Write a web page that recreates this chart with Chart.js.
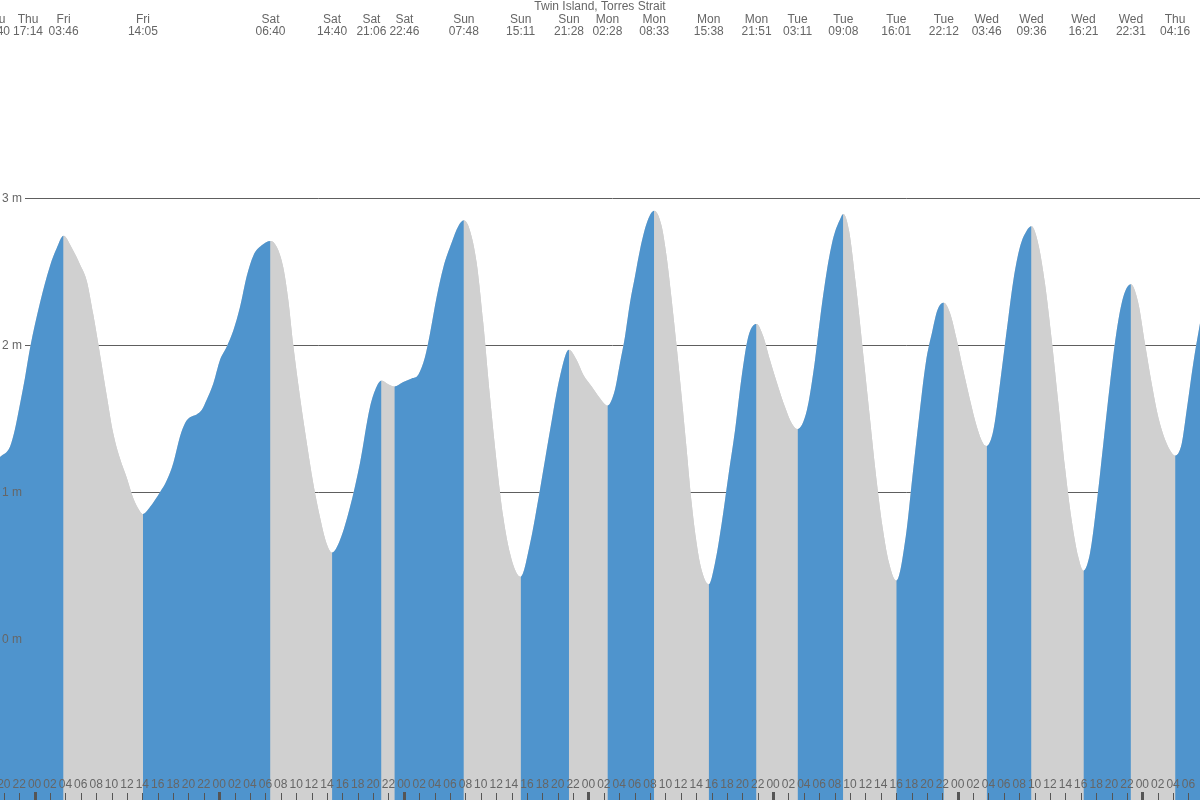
<!DOCTYPE html>
<html>
<head>
<meta charset="utf-8">
<script src="https://cdn.jsdelivr.net/npm/chart.js@4/dist/chart.umd.min.js"></script>
<style>
html,body{margin:0;padding:0;background:#fff;overflow:hidden}
canvas{display:block}
</style>
</head>
<body>
<canvas id="c" width="1200" height="800"></canvas>
<script>
// ---- Data (hours measured from Fri 00:00) ----
const chartTitle = 'Twin Island, Torres Strait';

const timeHours = [
  -4.5, -3.2, -2.55, -1.9, -1.25, -0.6, 0.7, 2.0, 2.87, 3.767,
  4.86, 5.9, 6.77, 7.63, 8.5, 9.37, 10.23, 11.1, 11.97, 12.83, 13.7, 14.083,
  15.0, 16.3, 17.17, 18.03, 18.9, 19.55, 20.2, 21.07, 21.72, 22.37, 23.23, 24.1, 24.97, 25.83, 26.7, 27.57, 28.43, 29.52, 30.667,
  31.47, 32.33, 33.0, 33.63, 34.5, 35.37, 36.23, 37.1, 37.97, 38.667,
  39.7, 41.0, 42.3, 43.6, 44.47, 45.1,
  45.97, 46.767,
  47.93, 49.02, 49.88, 50.75, 51.4, 52.27, 53.13, 54.22, 55.08, 55.8,
  56.6, 57.47, 58.33, 59.2, 60.07, 60.93, 61.8, 62.67, 63.183,
  64.4, 65.7, 67.0, 68.3, 69.467,
  70.47, 71.33, 72.42, 73.5, 74.467,
  75.45, 76.1, 76.75, 77.4, 78.05, 78.7, 79.57, 80.55,
  81.52, 82.17, 82.82, 83.47, 84.12, 84.77, 85.42, 86.07, 86.72, 87.633,
  88.45, 89.32, 90.18, 91.05, 91.92, 92.78, 93.85,
  94.73, 95.6, 96.47, 97.55, 98.42, 99.183,
  100.4, 101.27, 102.13, 103.0, 103.87, 104.73, 105.133,
  105.88, 106.75, 107.62, 108.48, 109.35, 110.22, 111.08, 112.017,
  113.25, 114.12, 114.98, 115.85, 116.72, 117.37, 118.2,
  119.0, 119.87, 120.73, 121.6, 122.47, 123.33, 123.767,
  124.63, 125.5, 126.37, 127.23, 128.1, 128.97, 129.6,
  130.48, 131.35, 132.22, 133.08, 133.95, 134.82, 135.68, 136.35,
  137.2, 138.07, 138.93, 139.8, 140.67, 141.53, 142.517,
  143.47, 144.35, 145.22, 146.08, 146.95, 147.82, 148.267,
  149.12, 149.77, 150.63, 151.5
];

const heightM = [
  1.24, 1.31, 1.43, 1.60, 1.78, 1.98, 2.29, 2.54, 2.66, 2.745,
  2.66, 2.55, 2.44, 2.21, 1.94, 1.66, 1.40, 1.23, 1.10, 0.96, 0.87, 0.852,
  0.90, 1.00, 1.08, 1.20, 1.38, 1.47, 1.51, 1.53, 1.56, 1.63, 1.74, 1.90, 1.99, 2.10, 2.26, 2.47, 2.61, 2.68, 2.71,
  2.67, 2.53, 2.30, 2.00, 1.65, 1.34, 1.06, 0.83, 0.65, 0.59,
  0.675, 0.90, 1.20, 1.58, 1.72, 1.76,
  1.735, 1.72,
  1.75, 1.775, 1.80, 1.92, 2.08, 2.33, 2.53, 2.70, 2.81, 2.85,
  2.78, 2.56, 2.15, 1.65, 1.20, 0.83, 0.585, 0.45, 0.426,
  0.65, 1.02, 1.42, 1.79, 1.97,
  1.90, 1.80, 1.72, 1.64, 1.59,
  1.70, 1.88, 2.06, 2.29, 2.47, 2.65, 2.83, 2.915,
  2.81, 2.60, 2.31, 1.99, 1.65, 1.29, 0.925, 0.65, 0.47, 0.374,
  0.52, 0.79, 1.11, 1.42, 1.79, 2.06, 2.145,
  2.06, 1.90, 1.75, 1.58, 1.47, 1.43,
  1.56, 1.83, 2.19, 2.51, 2.74, 2.86, 2.893,
  2.78, 2.42, 1.99, 1.56, 1.13, 0.77, 0.52, 0.40,
  0.70, 1.11, 1.51, 1.88, 2.10, 2.24, 2.29,
  2.22, 2.04, 1.83, 1.63, 1.45, 1.33, 1.315,
  1.42, 1.74, 2.10, 2.44, 2.67, 2.78, 2.81,
  2.69, 2.42, 2.04, 1.61, 1.17, 0.81, 0.56, 0.467,
  0.585, 0.925, 1.33, 1.74, 2.10, 2.33, 2.415,
  2.29, 2.01, 1.74, 1.51, 1.36, 1.27, 1.25,
  1.33, 1.56, 1.88, 2.15
];

// High / low tide times shown along the top
const extremeDays  = ['Thu','Thu','Fri','Fri','Sat','Sat','Sat','Sat','Sun','Sun','Sun','Mon','Mon','Mon','Mon','Tue','Tue','Tue','Tue','Wed','Wed','Wed','Wed','Thu'];
const extremeClock = ['10:40','17:14','03:46','14:05','06:40','14:40','21:06','22:46','07:48','15:11','21:28','02:28','08:33','15:38','21:51','03:11','09:08','16:01','22:12','03:46','09:36','16:21','22:31','04:16'];
const extremeTypes = ['H','L','H','L','H','L','H','L','H','L','H','L','H','L','H','L','H','L','H','L','H','L','H','L'];

const yTickValues = [0, 1, 2, 3];
const yTickLabels = ['0 m', '1 m', '2 m', '3 m'];
const hourTickStep = 2;

// visible window
const X_MIN = -4.5, X_MAX = 151.5;
const Y_MIN = -1.093, Y_MAX = 4.349;

// ---- styling ----
const RISING = '#4f94cd';
const FALLING = '#d0d0d0';
const TEXT = '#666666';
const LINE = '#5e5e5e';
const FONT = '12px "Liberation Sans", Arial, Helvetica, sans-serif';

// extreme times in hours from Fri 00:00 (day advances when the clock wraps)
const extremeT = [];
(function () {
  let dayOff = -1, prev = -1;
  extremeClock.forEach(s => {
    const [h, m] = s.split(':').map(Number);
    const v = h + m / 60;
    if (prev >= 0 && v < prev) dayOff++;
    prev = v;
    extremeT.push(dayOff * 24 + v);
  });
})();

// colour of a curve piece: rising (next extreme is a high) = blue, falling = grey
function bandColor(tMid) {
  for (let i = 0; i < extremeT.length; i++) {
    if (extremeT[i] >= tMid) return extremeTypes[i] === 'H' ? RISING : FALLING;
  }
  return extremeTypes[extremeTypes.length - 1] === 'H' ? FALLING : RISING;
}

const pad2 = n => (n < 10 ? '0' : '') + n;

const decor = {
  id: 'decor',
  beforeDatasetsDraw(chart) {
    const {ctx, chartArea, scales: {y}} = chart;
    ctx.save();
    ctx.font = FONT;
    ctx.strokeStyle = LINE;
    ctx.lineWidth = 1;
    yTickValues.forEach((v, i) => {
      const py = Math.round(y.getPixelForValue(v)) + 0.5;
      const x0 = 2 + ctx.measureText(yTickLabels[i]).width + 3;
      ctx.beginPath();
      ctx.moveTo(x0, py);
      ctx.lineTo(chartArea.right, py);
      ctx.stroke();
    });
    ctx.restore();
  },
  afterDatasetsDraw(chart) {
    const {ctx, chartArea, scales: {x, y}} = chart;
    ctx.save();
    ctx.font = FONT;
    ctx.fillStyle = TEXT;
    ctx.textBaseline = 'middle';

    // y labels
    ctx.textAlign = 'left';
    yTickValues.forEach((v, i) => {
      ctx.fillText(yTickLabels[i], 2, y.getPixelForValue(v));
    });

    // x hour labels + tick marks
    ctx.textAlign = 'center';
    const start = Math.ceil(X_MIN / hourTickStep) * hourTickStep;
    for (let t = start; t <= X_MAX; t += hourTickStep) {
      const px = x.getPixelForValue(t);
      const hr = ((t % 24) + 24) % 24;
      ctx.fillStyle = TEXT;
      ctx.fillText(pad2(hr), px, 785);
      ctx.fillStyle = '#555';
      if (hr === 0) ctx.fillRect(Math.round(px) - 1, 792, 3, 8);
      else ctx.fillRect(Math.round(px), 793, 1, 7);
    }

    // top labels (high/low times), spread apart when crowded
    const gap = 33;
    const pos = extremeT.map(t => x.getPixelForValue(t));
    for (let i = 0; i < pos.length - 1; i++) {
      if (pos[i] >= chartArea.left && pos[i + 1] - pos[i] < gap) {
        const mid = (pos[i] + pos[i + 1]) / 2;
        pos[i] = mid - gap / 2;
        pos[i + 1] = mid + gap / 2;
      }
    }
    const leftLimit = chartArea.left + 28;
    for (let i = 0; i < pos.length; i++) if (pos[i] < leftLimit) pos[i] = leftLimit;
    for (let i = pos.length - 2; i >= 0; i--) {
      if (pos[i] > pos[i + 1] - gap) pos[i] = pos[i + 1] - gap;
    }
    ctx.fillStyle = TEXT;
    pos.forEach((px, i) => {
      if (px < -40 || px > chartArea.right + 40) return;
      ctx.fillText(extremeDays[i], px, 20);
      ctx.fillText(extremeClock[i], px, 32);
    });

    // title
    ctx.fillText(chartTitle, (chartArea.left + chartArea.right) / 2, 7);
    ctx.restore();
  }
};

const points = timeHours.map((t, i) => ({x: t, y: heightM[i]}));

new Chart(document.getElementById('c'), {
  type: 'line',
  data: {
    datasets: [{
      // rising / falling bands
      data: points,
      order: 0,
      fill: 'start',
      backgroundColor: RISING,
      borderColor: 'rgba(0,0,0,0)',
      borderWidth: 0,
      pointRadius: 0,
      cubicInterpolationMode: 'monotone',
      segment: {
        backgroundColor: ctx => bandColor((ctx.p0.parsed.x + ctx.p1.parsed.x) / 2)
      }
    }, {
      // solid base under the bands so no seams show between them
      data: points,
      order: 1,
      fill: 'start',
      backgroundColor: FALLING,
      borderColor: 'rgba(0,0,0,0)',
      borderWidth: 0,
      pointRadius: 0,
      cubicInterpolationMode: 'monotone'
    }]
  },
  options: {
    responsive: false,
    animation: false,
    devicePixelRatio: 1,
    events: [],
    layout: {padding: 0},
    plugins: {legend: {display: false}, tooltip: {enabled: false}, title: {display: false}},
    scales: {
      x: {type: 'linear', min: X_MIN, max: X_MAX, display: false},
      y: {type: 'linear', min: Y_MIN, max: Y_MAX, display: false}
    }
  },
  plugins: [decor]
});
</script>
</body>
</html>
